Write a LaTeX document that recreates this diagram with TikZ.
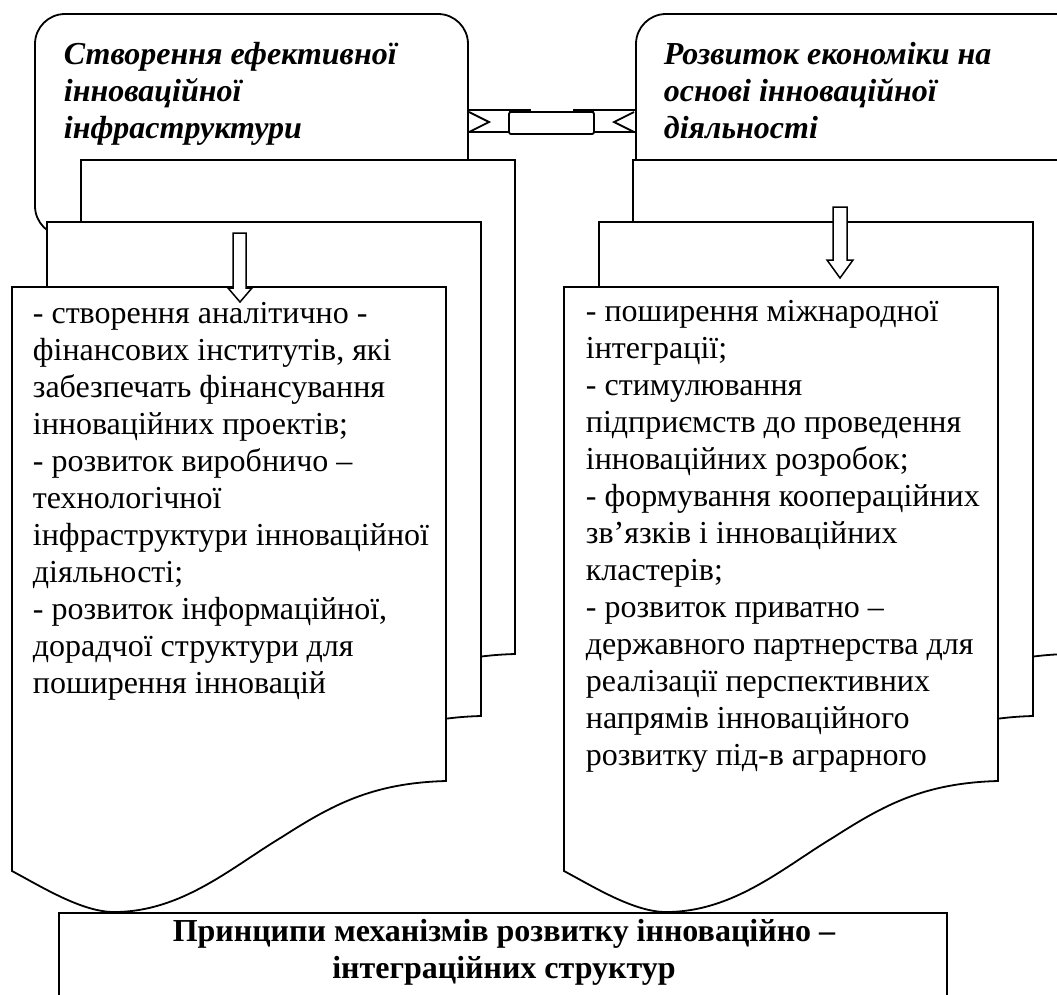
\documentclass[tikz,border=0pt]{standalone}
\usepackage{fontspec}
\setmainfont{Liberation Serif}
\usetikzlibrary{positioning}

\begin{document}
\begin{tikzpicture}[
    x=1pt, y=-1pt,
    line width=1.8pt,
    sheet/.style={draw, fill=white},
    caption/.style={anchor=north west, align=left, inner sep=0pt, font=\fontsize{32}{37}\selectfont\bfseries\itshape},
    listtext/.style={anchor=north west, align=left, inner sep=0pt, font=\fontsize{32}{37}\selectfont},
    hollow/.style={draw, fill=white, line width=1.5pt},
]
\useasboundingbox (0,0) rectangle (1057,994);
\clip (0,0) rectangle (1057,994);

% Headline boxes
\draw[sheet, rounded corners=30pt] (35,14) rectangle (468,236);
\draw[sheet, rounded corners=30pt] (636,14) rectangle (1100,236);

% Link between headline boxes
\draw (468,110) -- (531,110) (573,110) -- (636,110);
\draw (468,132) -- (509,132) (594,132) -- (636,132);
\draw (469,112) -- (489,122) -- (469,132);
\draw (634,112) -- (614,122) -- (634,132);
\draw[sheet, rounded corners=2pt] (509,112) rectangle (594,134);
\draw[line width=3pt] (509,111) -- (531,111) (573,111) -- (594,111);

% Stacked sheets
\foreach \gx in {0,552}{
  \foreach \sx/\sy in {69/160, 35/222, 0/287}{
    \draw[sheet, shift={(12+\gx+\sx,\sy)}] (0,0) -- (434,0) -- (434,494)
      .. controls (360,496) and (320,518) .. (270,550)
      .. controls (220,580) and (170,625) .. (102,625)
      .. controls (70,625) and (30,600) .. (0,584) -- cycle;
  }
}

% Down arrows
\draw[hollow] (233,233) -- (246,233) -- (246,288) -- (252,288) -- (240,302) -- (228,288) -- (233,288) -- cycle;
\draw[hollow] (833,207) -- (847,207) -- (847,260) -- (853,260) -- (840,278) -- (827,260) -- (833,260) -- cycle;

% Headline texts
\node[caption] (lefthead) at (63,41) {Створення ефективної\\інноваційної\\інфраструктури};
\node[caption] (righthead) at (663,41) {Розвиток економіки на\\основі інноваційної\\діяльності};

% Lists
\node[listtext] (leftlist) at (32,301) {- створення аналітично -\\фінансових інститутів, які\\забезпечать фінансування\\інноваційних проектів;\\- розвиток виробничо –\\технологічної\\інфраструктури інноваційної\\діяльності;\\- розвиток інформаційної,\\дорадчої структури для\\поширення інновацій};
\node[listtext] (rightlist) at (585,299) {- поширення міжнародної\\інтеграції;\\- стимулювання\\підприємств до проведення\\інноваційних розробок;\\- формування коопераційних\\зв’язків і інноваційних\\кластерів;\\- розвиток приватно –\\державного партнерства для\\реалізації перспективних\\напрямів інноваційного\\розвитку під-в аграрного};

% Principles box
\draw[sheet] (59,913) rectangle (947,1010);
\node[anchor=north, align=center, inner sep=0pt, font=\fontsize{32}{37}\selectfont\bfseries] (principles) at (504,918) {Принципи механізмів розвитку інноваційно –\\інтеграційних структур};

\end{tikzpicture}
\end{document}
